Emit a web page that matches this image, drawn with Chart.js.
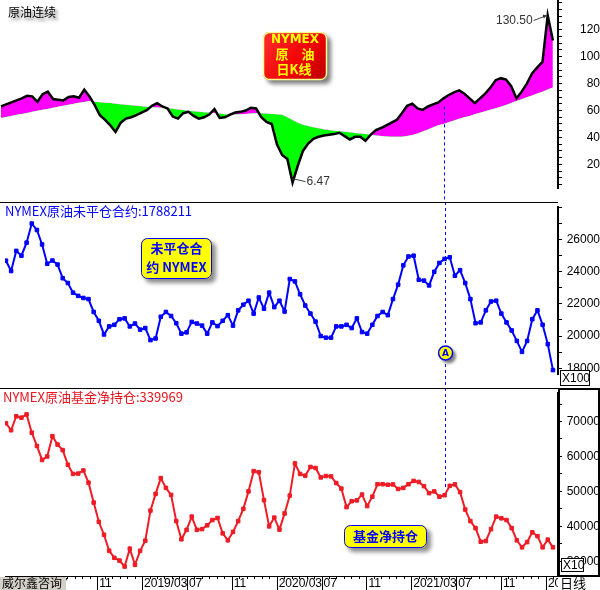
<!DOCTYPE html>
<html>
<head>
<meta charset="utf-8">
<script src="https://cdn.jsdelivr.net/npm/chart.js@4.4.1/dist/chart.umd.min.js"></script>
<style>
  html, body { margin: 0; padding: 0; background: #fff; }
  #wrap { position: relative; width: 600px; height: 590px; overflow: hidden; }
  #wrap canvas { position: absolute; left: 0; }
</style>
</head>
<body>
<div id="wrap">
  <canvas id="priceChart" width="600" height="202" style="top:0"></canvas>
  <canvas id="oiChart" width="600" height="186" style="top:202px"></canvas>
  <canvas id="fundChart" width="600" height="202" style="top:388px"></canvas>
</div>
<script>
// 两周取样, 2018/02 末 ~ 2022/03 末; x 轴单位: 以 2018/01 为 0 的月份
const startMonth = 1.87;
const stepMonth = 0.46;

// NYMEX 原油连续 (收盘) 与长期均线
const price = [63,64.5,66,67.5,69,71,70.5,66.5,72,74,
  68.5,68,67.5,70,70.5,69.5,75.5,70.5,64,56.5,
  53,49,44,51,54,55,56.5,58.5,60.3,63.5,
  65.5,63,61.5,55.5,54,58,59,56,54,55,
  57,61,54.5,55,57,58.5,59,60,62,61.5,
  55,51.5,50,35,27,24,6.47,19,30,35.5,
  39,40.5,41.5,42,42.5,43.5,41,38.5,40.5,40.5,
  37.5,42,45.5,47,49,51,53,58,63.5,65,
  61.5,60.5,63,64.5,66,69,71.5,73.5,75,72.5,
  69,65.5,69,72.5,77,82.5,84,83,78,69,
  74,80,87.5,92,96,130.5,112];
const priceMA = [54.5,55.2,56,56.8,57.5,58.2,59,59.8,60.5,61.2,
  62,62.8,63.5,64.2,65,65.7,66.4,67,66.5,66.2,
  65.8,65.5,65.1,64.7,64.3,63.9,63.5,63.1,62.8,62.5,
  62.3,62.1,61.8,61.3,60.8,60.3,59.9,59.5,59.1,58.8,
  58.5,58.2,57.8,57.3,57,57,57.2,57.5,57.8,58,
  58,57.8,57.5,57.2,56.8,55,53,51,49.5,48.5,
  47.6,46.8,46.1,45.5,45,44.6,44.2,43.8,43.4,43,
  42.5,42,41.5,41,40.7,40.5,40.5,40.6,41,41.8,
  43,44.5,46,47.5,49,50,51.2,52.5,53.8,55,
  56,57.2,58.3,59.4,60.5,61.6,62.7,64.1,65.5,67,
  68.4,69.8,71.2,72.6,74,75.5,77];

// 未平仓合约 (X100)
const openInt = [24690,24050,25300,25000,25810,27000,26600,25700,24500,24700,
  24450,23600,23300,22700,22500,22370,22300,21500,20950,20100,
  20600,20700,21050,21100,20600,20780,20400,20500,19750,19850,
  21200,21500,21250,20800,20150,20230,20880,20780,20650,20150,
  20850,20620,20950,21300,20650,21600,21950,22200,21400,22400,
  21700,22700,21800,22200,21530,23550,23400,22600,21900,21400,
  20900,20000,19900,19900,20600,20600,20700,20500,21100,20250,
  20150,20700,21250,21500,21300,22300,23200,24400,24950,25000,
  23500,23450,23150,24000,24550,24800,24900,23750,24100,23300,
  22300,20800,20850,21600,22150,22200,21400,20850,20350,19700,
  19017,19700,21050,21600,20700,19500,17882.11];

// 基金净持仓 (X10)
const fundNet = [69500,67500,71500,71100,72030,66800,63000,59000,60000,65800,
  63400,61820,57630,55000,55100,56000,52500,46800,41300,37600,
  33030,31000,30200,28500,33600,29000,33000,35900,44500,49280,
  53800,51000,49000,41500,36300,39000,42780,39000,39200,40300,
  41800,42400,38000,36000,38400,41500,45000,50000,55800,55500,
  47500,40000,42500,39070,43700,48800,58000,55000,54500,57000,
  56700,54000,54400,54300,52400,50800,45500,47200,47430,49100,
  45800,48500,52060,52060,51900,52000,50700,51000,52060,53000,
  52700,51500,49500,50000,48500,48900,51600,52000,49800,44800,
  41500,39500,35600,35800,39200,42780,42300,41800,39500,36000,
  34000,35500,38300,37200,34000,36200,33996.9];

const priceLabels = [20, 40, 60, 80, 100, 120];
const oiLabels = [18000, 20000, 22000, 24000, 26000];
const fundLabels = [30000, 40000, 50000, 60000, 70000];

const markIndex = 85;   // 竖虚线 / A 标记所在周
const months = price.map((_, i) => startMonth + i * stepMonth);
const xMin = 1.785, xMax = 51.08;

function range(a, b, s) { const r = []; for (let v = a; v <= b + 1e-9; v += s) r.push(+v.toFixed(4)); return r; }
const xTicks = range(2, 51, 2 / 3);
function isMajor(v) { const m = Math.round(v); return Math.abs(v - m) < 1e-3 && (m - 2) % 4 === 0; }
function monthLabel(m) {
  const y = 2018 + Math.floor(m / 12), mo = m % 12 + 1;
  return mo === 3 ? y + '/03' : String(mo).padStart(2, '0');
}

Chart.defaults.font.family = '"Liberation Sans", Arial, sans-serif';
Chart.defaults.font.size = 12;
Chart.defaults.color = '#000';

function xScale(show) {
  return {
    type: 'linear', min: xMin, max: xMax, display: show,
    afterBuildTicks: s => { s.ticks = xTicks.map(v => ({ value: v })); },
    afterFit: s => { s.height = 14; s.paddingLeft = 0; s.paddingRight = 0; },
    grid: { display: false, drawTicks: false },
    border: { display: true, color: '#000', width: 1 },
    ticks: {
      autoSkip: false, maxRotation: 0, minRotation: 0, align: 'start', labelOffset: 2, padding: 0,
      callback: v => isMajor(v) ? monthLabel(Math.round(v)) : ''
    }
  };
}

function yScale(min, max, minor, labels, pad) {
  return {
    position: 'right', min, max,
    afterBuildTicks: s => { s.ticks = minor.map(v => ({ value: v })); },
    afterFit: s => { s.width = 42; s.paddingTop = 0; s.paddingBottom = 0; },
    grid: { drawOnChartArea: false, drawTicks: true, tickLength: 4, tickColor: '#000', tickWidth: 1 },
    border: { color: '#000', width: 2 },
    ticks: { autoSkip: false, crossAlign: 'far', padding: pad,
      callback: v => labels.includes(v) ? String(v) : '' }
  };
}

const base = {
  responsive: false, animation: false, events: [],
  layout: { padding: 0 },
  plugins: { legend: { display: false }, tooltip: { enabled: false } }
};

function roundRect(ctx, x, y, w, h, r) {
  ctx.beginPath();
  ctx.moveTo(x + r, y);
  ctx.arcTo(x + w, y, x + w, y + h, r);
  ctx.arcTo(x + w, y + h, x, y + h, r);
  ctx.arcTo(x, y + h, x, y, r);
  ctx.arcTo(x, y, x + w, y, r);
  ctx.closePath();
}

function yellowBox(ctx, x, y, w, h, lines, font) {
  ctx.save();
  ctx.shadowColor = 'rgba(0,0,0,0.45)'; ctx.shadowBlur = 4; ctx.shadowOffsetX = 4; ctx.shadowOffsetY = 4;
  roundRect(ctx, x, y, w, h, 6);
  ctx.fillStyle = '#ffff00'; ctx.fill();
  ctx.restore();
  ctx.save();
  roundRect(ctx, x + 0.5, y + 0.5, w - 1, h - 1, 6);
  ctx.strokeStyle = '#0000ff'; ctx.lineWidth = 1; ctx.stroke();
  ctx.fillStyle = '#0000ff'; ctx.font = font; ctx.textAlign = 'center'; ctx.textBaseline = 'middle';
  lines.forEach(l => ctx.fillText(l.t, x + w / 2, l.y));
  ctx.restore();
}

function unitBox(ctx, x, y, w, h, text) {
  ctx.save();
  ctx.fillStyle = '#fff'; ctx.fillRect(x, y, w, h);
  ctx.strokeStyle = '#000'; ctx.lineWidth = 1; ctx.strokeRect(x + 0.5, y + 0.5, w - 1, h - 1);
  ctx.fillStyle = '#000'; ctx.font = '12px "Liberation Sans", Arial';
  ctx.textBaseline = 'middle'; ctx.fillText(text, x + 2, y + h / 2 + 1);
  ctx.restore();
}

function dashedMark(ctx, x, y0, y1) {
  ctx.save();
  ctx.strokeStyle = '#0000ff'; ctx.lineWidth = 1; ctx.setLineDash([3, 3]);
  ctx.beginPath(); ctx.moveTo(Math.round(x) + 0.5, y0); ctx.lineTo(Math.round(x) + 0.5, y1); ctx.stroke();
  ctx.restore();
}

// ---- 上: 原油连续 ----
const topOverlay = {
  id: 'topOverlay',
  afterDatasetsDraw(chart) {
    const p = chart.getDatasetMeta(0).data[markIndex];
    dashedMark(chart.ctx, p.x, p.y + 8, chart.height);
  },
  afterDraw(chart) {
    const ctx = chart.ctx;
    const meta = chart.getDatasetMeta(0);
    ctx.save();
    ctx.font = '12px "Noto Sans CJK SC"';
    ctx.textBaseline = 'middle';
    ctx.shadowColor = 'rgba(0,0,0,0.45)'; ctx.shadowBlur = 3; ctx.shadowOffsetX = 3; ctx.shadowOffsetY = 3;
    ctx.fillStyle = '#000';
    ctx.fillText('原油连续', 8, 12);
    ctx.restore();

    // 红色标题框
    ctx.save();
    ctx.shadowColor = 'rgba(0,0,0,0.5)'; ctx.shadowBlur = 4; ctx.shadowOffsetX = 4; ctx.shadowOffsetY = 4;
    roundRect(ctx, 263, 32, 64, 48, 6);
    const g = ctx.createLinearGradient(263, 32, 327, 80);
    g.addColorStop(0, '#ff3030'); g.addColorStop(0.6, '#f00000'); g.addColorStop(1, '#b80000');
    ctx.fillStyle = g; ctx.fill();
    ctx.restore();
    ctx.save();
    roundRect(ctx, 263.5, 32.5, 63, 47, 6);
    ctx.strokeStyle = '#ffff90'; ctx.lineWidth = 1.5; ctx.stroke();
    ctx.fillStyle = '#ffff00'; ctx.textAlign = 'center'; ctx.textBaseline = 'middle';
    ctx.font = 'bold 12px "DejaVu Sans"';
    ctx.fillText('NYMEX', 295, 40);
    ctx.font = 'bold 13px "Noto Sans CJK SC"';
    ctx.fillText('原', 282, 54);
    ctx.fillText('油', 308, 54);
    ctx.fillText('日K线', 294, 69);
    ctx.restore();

    // 最高 / 最低 标注
    const hi = price.indexOf(Math.max(...price));
    const lo = price.indexOf(Math.min(...price));
    const ph = meta.data[hi], pl = meta.data[lo];
    ctx.save();
    ctx.font = '12px "Liberation Sans", Arial';
    ctx.fillStyle = '#333'; ctx.strokeStyle = '#444'; ctx.lineWidth = 1;
    ctx.textBaseline = 'middle';
    ctx.textAlign = 'right';
    ctx.fillText(price[hi].toFixed(2), ph.x - 15, ph.y + 5);
    ctx.beginPath(); ctx.moveTo(ph.x - 14, ph.y + 5); ctx.lineTo(ph.x - 1, ph.y); ctx.stroke();
    ctx.beginPath(); ctx.moveTo(ph.x - 1, ph.y); ctx.lineTo(ph.x - 5, ph.y - 1); ctx.lineTo(ph.x - 4, ph.y + 3); ctx.closePath(); ctx.fill();
    ctx.textAlign = 'left';
    ctx.beginPath(); ctx.moveTo(pl.x, pl.y - 4); ctx.lineTo(pl.x + 13, pl.y - 1); ctx.stroke();
    ctx.fillText(price[lo].toFixed(2), pl.x + 14, pl.y - 1);
    ctx.restore();
  }
};

new Chart(document.getElementById('priceChart'), {
  type: 'line',
  data: {
    labels: months,
    datasets: [
      { data: price, borderColor: '#000', borderWidth: 2.5, pointRadius: 0, tension: 0,
        fill: { target: 1, above: '#ff00ff', below: '#00ff00' } },
      { data: priceMA, borderColor: 'rgba(0,0,0,0)', borderWidth: 0, pointRadius: 0, fill: false }
    ]
  },
  options: { ...base,
    scales: { x: xScale(false), y: yScale(2.5, 142, range(5, 140, 5), priceLabels, 15) } },
  plugins: [topOverlay]
});

// ---- 中: 未平仓合约 ----
const midOverlay = {
  id: 'midOverlay',
  afterDatasetsDraw(chart) {
    const p = chart.getDatasetMeta(0).data[markIndex];
    dashedMark(chart.ctx, p.x, 0, chart.height);
  },
  afterDraw(chart) {
    const ctx = chart.ctx;
    const p = chart.getDatasetMeta(0).data[markIndex];
    ctx.save();
    ctx.fillStyle = '#000'; ctx.fillRect(0, 0, 558, 1);
    ctx.fillStyle = '#0000ff'; ctx.font = '13px "Noto Sans CJK SC"'; ctx.textBaseline = 'middle';
    ctx.fillText('NYMEX原油未平仓合约:' + Math.round(openInt[openInt.length - 1] * 100), 5, 9);
    ctx.restore();
    yellowBox(ctx, 141, 36, 71, 41,
      [{ t: '未平仓合', y: 46 }, { t: '约 NYMEX', y: 65 }], 'bold 13px "Noto Sans CJK SC"');
    // A 标记
    ctx.save();
    ctx.shadowColor = 'rgba(0,0,0,0.5)'; ctx.shadowBlur = 3; ctx.shadowOffsetX = 3; ctx.shadowOffsetY = 3;
    ctx.beginPath(); ctx.arc(p.x + 1, 151, 7.5, 0, Math.PI * 2);
    ctx.fillStyle = '#ffff00'; ctx.fill();
    ctx.restore();
    ctx.save();
    ctx.beginPath(); ctx.arc(p.x + 1, 151, 7, 0, Math.PI * 2);
    ctx.strokeStyle = '#0000ff'; ctx.lineWidth = 1.5; ctx.stroke();
    ctx.fillStyle = '#0000ff'; ctx.font = 'bold 9px "DejaVu Sans"';
    ctx.textAlign = 'center'; ctx.textBaseline = 'middle';
    ctx.fillText('A', p.x + 1, 151.5);
    ctx.restore();
    unitBox(ctx, 560, 168, 30, 16, 'X100');
  }
};

new Chart(document.getElementById('oiChart'), {
  type: 'line',
  data: {
    labels: months,
    datasets: [{ data: openInt, borderColor: '#0000ff', borderWidth: 2, tension: 0,
      pointStyle: 'rect', pointRadius: 2.5, pointBorderWidth: 1,
      pointBackgroundColor: '#0000ff', pointBorderColor: '#0000ff' }]
  },
  options: { ...base,
    scales: { x: xScale(false), y: yScale(17640, 28030, range(18000, 28000, 1000), oiLabels, 2) } },
  plugins: [midOverlay]
});

// ---- 下: 基金净持仓 ----
const botOverlay = {
  id: 'botOverlay',
  afterDatasetsDraw(chart) {
    const p = chart.getDatasetMeta(0).data[markIndex];
    dashedMark(chart.ctx, p.x, 0, p.y - 6);
  },
  afterDraw(chart) {
    const ctx = chart.ctx;
    const xs = chart.scales.x;
    const bottom = chart.chartArea.bottom;
    ctx.save();
    ctx.fillStyle = '#000'; ctx.fillRect(0, 0, 600, 1);
    ctx.fillStyle = '#e8141e'; ctx.font = '13px "Noto Sans CJK SC"'; ctx.textBaseline = 'middle';
    ctx.fillText('NYMEX原油基金净持仓:' + Math.round(fundNet[fundNet.length - 1] * 10), 3, 9);
    ctx.restore();
    yellowBox(ctx, 344, 137, 83, 23, [{ t: '基金净持仓', y: 148.5 }], 'bold 13px "Noto Sans CJK SC"');

    // x 轴刻度
    ctx.save();
    ctx.fillStyle = '#fff'; ctx.fillRect(558, bottom + 1, 42, 202 - bottom);
    ctx.strokeStyle = '#000'; ctx.lineWidth = 1;
    xs.ticks.forEach(t => {
      const x = Math.round(xs.getPixelForValue(t.value)) + 0.5;
      if (x > 558) return;
      ctx.beginPath(); ctx.moveTo(x, bottom); ctx.lineTo(x, bottom + (isMajor(t.value) ? 14 : 3)); ctx.stroke();
    });
    ctx.fillStyle = '#000'; ctx.font = '13px "Noto Sans CJK SC"'; ctx.textBaseline = 'middle';
    ctx.fillText('日线', 560, 195);
    ctx.fillStyle = '#d4d0c8'; ctx.fillRect(0, bottom + 1, 66, 202 - bottom);
    ctx.fillStyle = '#000'; ctx.font = '12px "Noto Sans CJK SC"';
    ctx.fillText('威尔鑫咨询', 2, 195.5);
    // 右侧刻度区外框
    ctx.lineWidth = 2;
    ctx.strokeRect(559, 1, 40, bottom - 1);
    ctx.restore();
    unitBox(ctx, 561, 170, 23, 14, 'X10');
  }
};

new Chart(document.getElementById('fundChart'), {
  type: 'line',
  data: {
    labels: months,
    datasets: [{ data: fundNet, borderColor: '#ee1c25', borderWidth: 2, tension: 0,
      pointStyle: 'rect', pointRadius: 2.5, pointBorderWidth: 1,
      pointBackgroundColor: '#ee1c25', pointBorderColor: '#ee1c25' }]
  },
  options: { ...base,
    scales: { x: xScale(true), y: yScale(25790, 78160, range(30000, 75000, 5000), fundLabels, 2) } },
  plugins: [botOverlay]
});
</script>
</body>
</html>
